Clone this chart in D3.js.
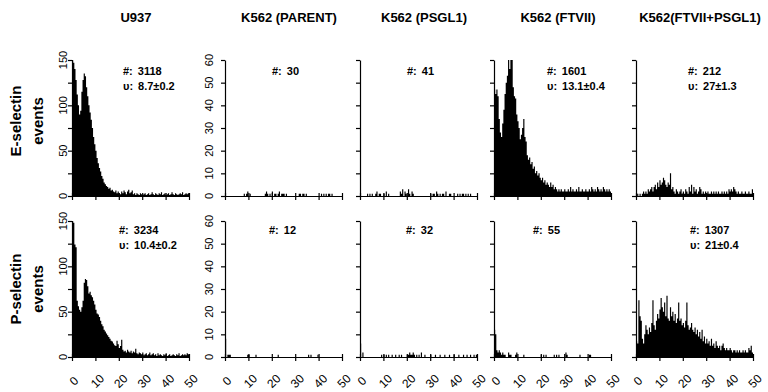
<!DOCTYPE html>
<html>
<head>
<meta charset="utf-8">
<script src="https://cdn.jsdelivr.net/npm/d3@7"></script>
<style>
  body { margin: 0; background: #fff; }
  svg { display: block; font-family: Arial, "Liberation Sans", Helvetica, sans-serif; }
</style>
</head>
<body>
<div id="chart"></div>
<script>
// column / row labels
const cellLines = ['U937', 'K562 (PARENT)', 'K562 (PSGL1)', 'K562 (FTVII)', 'K562(FTVII+PSGL1)'];
const selectins = ['E-selectin', 'P-selectin'];

// axes
const binWidth = 0.5;
const xTicks = [0, 10, 20, 30, 40, 50];
const yMax = [150, 60, 60, 60, 60];
const yTickStep = [25, 10, 10, 10, 10];
const yLabelStep = [50, 10, 0, 0, 0];

// annotations
const countsE = ['3118', '30', '41', '1601', '212'];
const velocityE = ['8.7\u00b10.2', '', '', '13.1\u00b10.4', '27\u00b11.3'];
const countsP = ['3234', '12', '32', '55', '1307'];
const velocityP = ['10.4\u00b10.2', '', '', '', '21\u00b10.4'];

// histograms, 0.5-wide bins from 0 to 50
const u937E = [
  150, 147, 140, 128, 112, 100, 90, 94, 115, 128,
  135, 132, 120, 110, 100, 92, 84, 75, 65, 57,
  50, 42, 36, 31, 27, 22, 19, 15, 13, 11,
  10, 8, 9, 6, 7, 5, 4, 6, 3, 5,
  3, 2, 5, 3, 6, 4, 2, 5, 7, 3,
  4, 6, 2, 3, 1, 3, 2, 1, 3, 2,
  1, 2, 3, 1, 2, 3, 1, 2, 4, 2,
  1, 3, 2, 1, 3, 2, 4, 1, 2, 3,
  1, 2, 3, 1, 2, 4, 2, 1, 3, 2,
  1, 2, 3, 2, 4, 1, 2, 3, 2, 3
];
const parentE = [
  0, 0, 0, 0, 0, 0, 0, 0, 0, 0,
  0, 0, 0, 0, 0, 0, 1, 0, 1, 2,
  0, 1, 0, 0, 0, 0, 0, 0, 0, 0,
  0, 0, 0, 0, 1, 2, 1, 0, 1, 0,
  2, 0, 1, 1, 0, 1, 2, 0, 1, 1,
  1, 0, 1, 0, 0, 0, 0, 0, 0, 0,
  0, 0, 0, 1, 1, 0, 1, 1, 0, 1,
  0, 0, 0, 0, 0, 0, 0, 0, 0, 0,
  0, 0, 1, 0, 1, 0, 1, 0, 1, 1,
  0, 1, 0, 0, 0, 0, 0, 0, 0, 0
];
const psgl1E = [
  0, 0, 0, 0, 0, 0, 1, 0, 1, 0,
  1, 0, 0, 1, 2, 0, 1, 1, 0, 0,
  1, 0, 2, 0, 1, 0, 0, 0, 0, 0,
  0, 0, 0, 0, 2, 1, 3, 0, 2, 1,
  0, 3, 1, 0, 2, 1, 0, 0, 0, 0,
  0, 0, 0, 0, 0, 0, 0, 0, 0, 0,
  1, 0, 1, 1, 0, 2, 1, 0, 1, 0,
  1, 1, 0, 2, 0, 0, 1, 1, 0, 0,
  0, 0, 0, 1, 0, 1, 0, 1, 1, 0,
  1, 0, 1, 0, 1, 0, 0, 0, 0, 0
];
const ftviiE = [
  47, 45, 47, 44, 34, 28, 26, 32, 38, 45,
  50, 53, 60, 56, 62, 61, 48, 44, 43, 36,
  33, 30, 25, 27, 30, 34, 26, 24, 18, 16,
  17, 14, 15, 12, 13, 10, 11, 9, 10, 8,
  7, 8, 6, 7, 5, 6, 5, 4, 6, 4,
  5, 3, 4, 3, 2, 3, 2, 3, 2, 2,
  3, 2, 2, 3, 2, 4, 2, 3, 2, 2,
  3, 2, 4, 2, 2, 3, 2, 2, 3, 2,
  2, 3, 2, 4, 3, 2, 3, 2, 4, 3,
  2, 3, 2, 4, 3, 2, 3, 2, 3, 2
];
const ftviiPsgl1E = [
  0, 1, 0, 1, 0, 1, 2, 1, 2, 1,
  3, 2, 3, 4, 2, 4, 5, 3, 6, 4,
  7, 5, 6, 8, 7, 5, 4, 6, 5, 10,
  3, 4, 2, 1, 3, 2, 1, 2, 3, 1,
  2, 1, 3, 2, 1, 4, 2, 5, 1, 4,
  2, 3, 1, 2, 4, 3, 1, 2, 1, 2,
  1, 2, 1, 1, 2, 1, 2, 1, 2, 1,
  2, 1, 1, 2, 1, 2, 1, 2, 1, 3,
  2, 3, 2, 4, 3, 2, 1, 2, 1, 1,
  2, 1, 1, 2, 1, 1, 2, 1, 1, 3
];

const u937P = [
  150, 148, 124, 121, 62, 56, 52, 50, 55, 62,
  82, 86, 85, 78, 70, 72, 68, 66, 62, 58,
  52, 48, 47, 44, 40, 36, 34, 30, 28, 26,
  24, 22, 20, 18, 17, 15, 13, 12, 18, 14,
  10, 12, 19, 8, 6, 7, 5, 8, 6, 5,
  7, 4, 6, 5, 9, 4, 3, 5, 4, 3,
  5, 2, 3, 4, 2, 3, 5, 2, 3, 4,
  2, 3, 1, 4, 2, 3, 2, 1, 3, 2,
  4, 1, 2, 3, 1, 2, 3, 2, 1, 3,
  2, 4, 1, 2, 3, 2, 3, 2, 4, 3
];
const parentP = [
  8, 0, 1, 1, 1, 0, 0, 0, 0, 0,
  0, 0, 0, 0, 0, 0, 0, 0, 0, 1,
  1, 0, 0, 0, 0, 0, 1, 0, 0, 0,
  0, 0, 0, 0, 0, 0, 0, 0, 0, 0,
  0, 0, 0, 0, 0, 1, 0, 0, 0, 0,
  0, 0, 0, 0, 0, 0, 0, 0, 0, 0,
  0, 0, 0, 0, 0, 0, 0, 0, 0, 0,
  0, 1, 0, 1, 0, 0, 0, 0, 0, 1,
  0, 0, 0, 0, 0, 0, 0, 0, 0, 0,
  0, 0, 0, 0, 0, 0, 0, 0, 0, 0
];
const psgl1P = [
  6, 0, 2, 0, 0, 0, 0, 0, 0, 0,
  0, 0, 0, 0, 0, 0, 0, 0, 1, 0,
  1, 0, 1, 0, 1, 0, 0, 1, 0, 0,
  1, 0, 0, 1, 0, 1, 0, 0, 0, 0,
  1, 1, 2, 1, 1, 2, 1, 0, 1, 0,
  1, 0, 2, 0, 0, 1, 0, 0, 0, 0,
  1, 0, 0, 0, 1, 0, 0, 0, 1, 0,
  0, 0, 1, 0, 0, 0, 1, 0, 0, 0,
  1, 0, 0, 0, 1, 0, 0, 0, 1, 0,
  0, 1, 0, 0, 1, 0, 0, 1, 0, 1
];
const ftviiP = [
  12, 10, 3, 2, 3, 2, 1, 2, 1, 1,
  0, 0, 2, 1, 1, 0, 0, 0, 1, 2,
  0, 0, 0, 0, 0, 1, 0, 0, 0, 0,
  0, 0, 0, 0, 0, 0, 0, 0, 0, 0,
  1, 0, 1, 0, 1, 0, 0, 0, 0, 0,
  0, 1, 0, 1, 0, 1, 0, 0, 0, 0,
  0, 2, 1, 0, 0, 0, 0, 0, 0, 0,
  0, 0, 0, 1, 0, 0, 0, 0, 0, 0,
  0, 1, 1, 0, 0, 0, 0, 0, 0, 0,
  0, 0, 0, 0, 0, 0, 0, 0, 0, 0
];
const ftviiPsgl1P = [
  7, 6, 25, 18, 16, 8, 6, 10, 14, 12,
  10, 13, 11, 15, 25, 14, 12, 16, 19, 17,
  21, 26, 22, 20, 24, 18, 27, 17, 16, 22,
  18, 20, 16, 19, 15, 17, 24, 16, 17, 14,
  15, 13, 16, 24, 14, 12, 13, 15, 12, 11,
  13, 10, 12, 9, 11, 8, 12, 7, 9, 6,
  8, 6, 7, 5, 8, 5, 6, 4, 7, 5,
  4, 5, 3, 5, 6, 4, 3, 4, 3, 3,
  4, 3, 2, 3, 3, 2, 3, 2, 3, 2,
  2, 3, 2, 3, 2, 2, 4, 3, 5, 2
];

const rows = [
  { label: selectins[0], hists: [u937E, parentE, psgl1E, ftviiE, ftviiPsgl1E], counts: countsE, vel: velocityE },
  { label: selectins[1], hists: [u937P, parentP, psgl1P, ftviiP, ftviiPsgl1P], counts: countsP, vel: velocityP }
];

// layout
const width = 768, height = 392;
const panelW = 117, panelH = 136;
const colX = [72, 225, 360, 494, 636];
const rowY = [60, 221];
const labelGap = [6, 13, 0, 0, 0];
const annotDx = [[51, 47, 47, 53, 52], [47, 44, 46, 39, 54]];

const svg = d3.select('#chart').append('svg')
  .attr('width', width)
  .attr('height', height);

// column titles
svg.selectAll('.title')
  .data(cellLines)
  .join('text')
  .attr('class', 'title')
  .attr('x', (d, i) => colX[i] + 64)
  .attr('y', 22)
  .attr('text-anchor', 'middle')
  .style('font-size', '13px')
  .style('font-weight', 'bold')
  .text(d => d);

rows.forEach((row, r) => {
  const cy = rowY[r] + (r === 0 ? 61 : 68);
  svg.append('text')
    .attr('transform', 'translate(21,' + cy + ') rotate(-90)')
    .attr('text-anchor', 'middle')
    .style('font-size', '15px')
    .style('font-weight', 'bold')
    .text(row.label);
  svg.append('text')
    .attr('transform', 'translate(43,' + cy + ') rotate(-90)')
    .attr('text-anchor', 'middle')
    .style('font-size', '15px')
    .style('font-weight', 'bold')
    .text('events');

  row.hists.forEach((hist, c) => {
    const g = svg.append('g')
      .attr('transform', 'translate(' + colX[c] + ',' + rowY[r] + ')');

    const x = d3.scaleLinear().domain([0, 50]).range([0, panelW]);
    const y = d3.scaleLinear().domain([0, yMax[c]]).range([panelH, 0]);

    // histogram drawn as one stepped area so adjacent bins don't leave seams
    const steps = hist.map((v, i) => ({ x0: i * binWidth, v: Math.min(v, yMax[c]) }));
    steps.push({ x0: hist.length * binWidth, v: 0 });
    const area = d3.area()
      .curve(d3.curveStepAfter)
      .x(d => x(d.x0))
      .y0(panelH)
      .y1(d => y(d.v));
    g.append('path')
      .datum(steps)
      .attr('d', area)
      .attr('fill', '#000');

    // y axis
    const yAxis = d3.axisLeft(y)
      .tickValues(d3.range(0, yMax[c] + 1, yTickStep[c]))
      .tickSize(4)
      .tickSizeOuter(0)
      .tickFormat('');
    const ya = g.append('g').call(yAxis);
    ya.selectAll('path, line').attr('stroke', '#000').attr('stroke-width', 1.2);

    if (yLabelStep[c]) {
      g.selectAll('.ylab')
        .data(d3.range(0, yMax[c] + 1, yLabelStep[c]))
        .join('text')
        .attr('class', 'ylab')
        .attr('transform', d => 'translate(' + (-labelGap[c] + 1) + ',' + y(d) + ') rotate(-90)')
        .attr('text-anchor', 'middle')
        .style('font-size', '11px')
        .text(d => d);
    }

    // x axis, ticks cross the line
    const xAxis = d3.axisBottom(x)
      .tickValues(xTicks)
      .tickSize(4)
      .tickSizeOuter(0)
      .tickFormat('');
    const xa = g.append('g')
      .attr('transform', 'translate(0,' + panelH + ')')
      .call(xAxis);
    xa.selectAll('line').attr('y1', -3);
    xa.selectAll('path, line').attr('stroke', '#000').attr('stroke-width', 1.2);

    if (r === 1) {
      g.selectAll('.xlab')
        .data(xTicks)
        .join('text')
        .attr('class', 'xlab')
        .attr('transform', d => 'translate(' + (x(d) + 2) + ',' + (panelH + 24) + ') rotate(-45)')
        .attr('text-anchor', 'middle')
        .attr('dy', '0.35em')
        .style('font-size', '12px')
        .text(d => d);
    }

    // counts and velocity
    const ax = annotDx[r][c];
    const t1 = g.append('text')
      .attr('x', ax)
      .attr('y', r === 0 ? 15 : 13)
      .style('font-size', '11px')
      .style('font-weight', 'bold');
    t1.append('tspan').text('#:');
    t1.append('tspan').attr('dx', 5).text(row.counts[c]);
    if (row.vel[c]) {
      const t2 = g.append('text')
        .attr('x', ax)
        .attr('y', r === 0 ? 30 : 28)
        .style('font-size', '11px')
        .style('font-weight', 'bold');
      t2.append('tspan').text('\u03c5:');
      t2.append('tspan').attr('dx', 5).text(row.vel[c]);
    }
  });
});
</script>
</body>
</html>
